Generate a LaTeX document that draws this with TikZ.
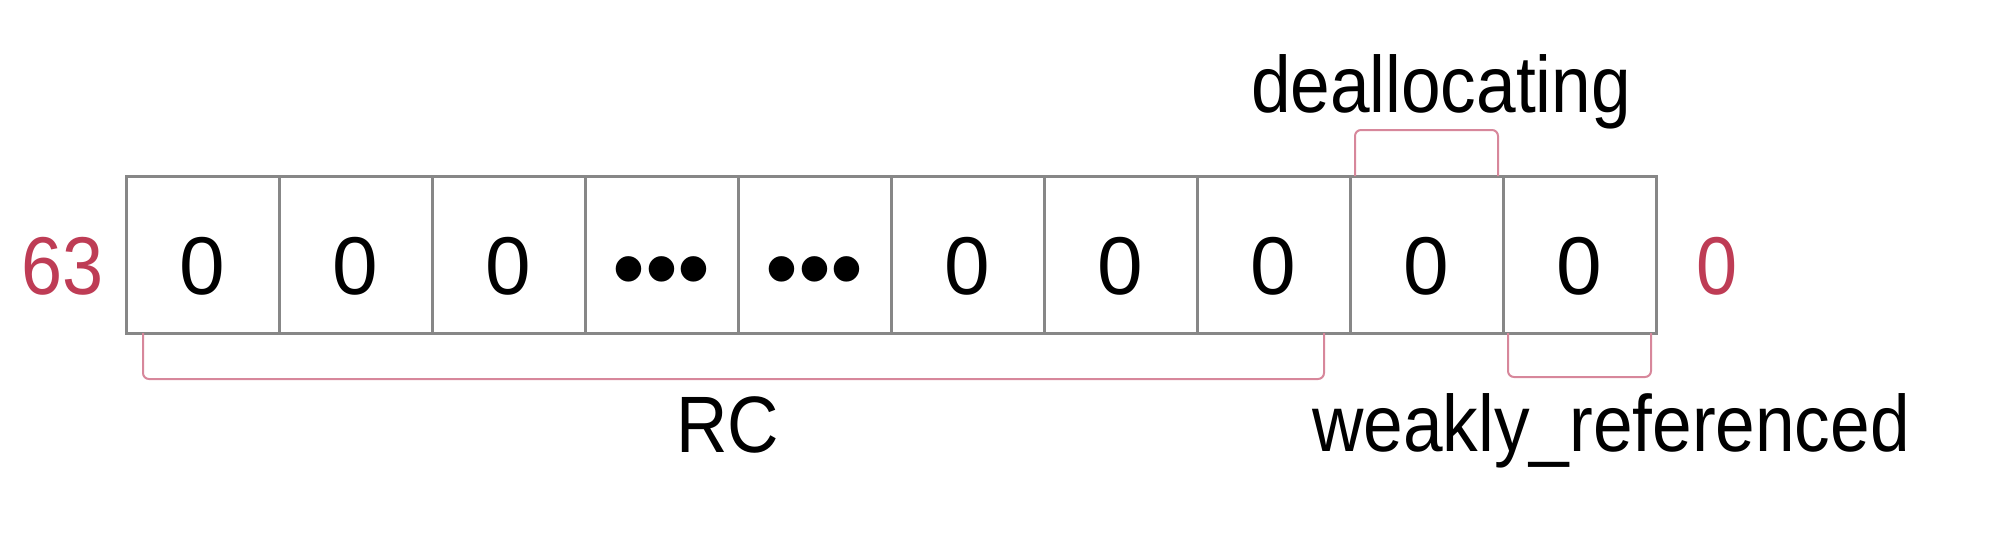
\documentclass[tikz,border=0pt]{standalone}
\usepackage{fontspec}
\setmainfont{Liberation Sans}
\usepackage{tikz}
\usetikzlibrary{positioning}
\definecolor{bitred}{RGB}{190,60,85}
\definecolor{bracepink}{RGB}{215,135,155}
\definecolor{cellgray}{RGB}{135,135,135}
\newcommand{\bitdots}{{\fontsize{47}{56}\selectfont\raisebox{-3pt}{•••}}}

\begin{document}
\begin{tikzpicture}[x=0.5pt,y=-0.5pt,
    cell/.style={draw=cellgray,line width=1.5pt,minimum width=76.5pt,minimum height=78.5pt,
        inner sep=0pt,outer sep=0pt,text height=39.5pt,text depth=0pt,
        font=\fontsize{41}{49}\selectfont},
    bitno/.style={text=bitred,inner sep=0pt,outer sep=0pt,text height=39.5pt,text depth=0pt,
        transform shape,xscale=0.9,font=\fontsize{41}{49}\selectfont},
    field/.style={anchor=base,inner sep=0pt,transform shape,xscale=0.89,
        font=\fontsize{40}{48}\selectfont},
    brace/.style={draw=bracepink,line width=1pt,rounded corners=3pt}]
    \useasboundingbox (0,0) rectangle (1992,542);

    % the 64 bits, high end on the left
    \node (c0) [cell] at (202.5,254.5) {0};
    \node (c1) [cell,right=0pt of c0] {0};
    \node (c2) [cell,right=0pt of c1] {0};
    \node (c3) [cell,right=0pt of c2] {\bitdots};
    \node (c4) [cell,right=0pt of c3] {\bitdots};
    \node (c5) [cell,right=0pt of c4] {0};
    \node (c6) [cell,right=0pt of c5] {0};
    \node (c7) [cell,right=0pt of c6] {0};
    \node (c8) [cell,right=0pt of c7] {0};
    \node (c9) [cell,right=0pt of c8] {0};

    \node (hi) [bitno,left=11pt of c0] {63};
    \node (lo) [bitno,right=20pt of c9] {0};

    % fields
    \draw [brace] ([xshift=8.5pt]c0.south west) -- ++(0,46) -| ([xshift=-13pt]c8.south west);
    \draw [brace] ([xshift=2.5pt]c8.north west) -- ++(0,-46) -| ([xshift=-2.5pt]c8.north east);
    \draw [brace] ([xshift=2.5pt]c9.south west) -- ++(0,44) -| ([xshift=-2.5pt]c9.south east);

    \node (rc) [field] at (728,452) {RC};
    \node (dealloc) [field] at (1441,112) {deallocating};
    \node (weak) [field] at (1611,451) {weakly\_referenced};
\end{tikzpicture}
\end{document}
